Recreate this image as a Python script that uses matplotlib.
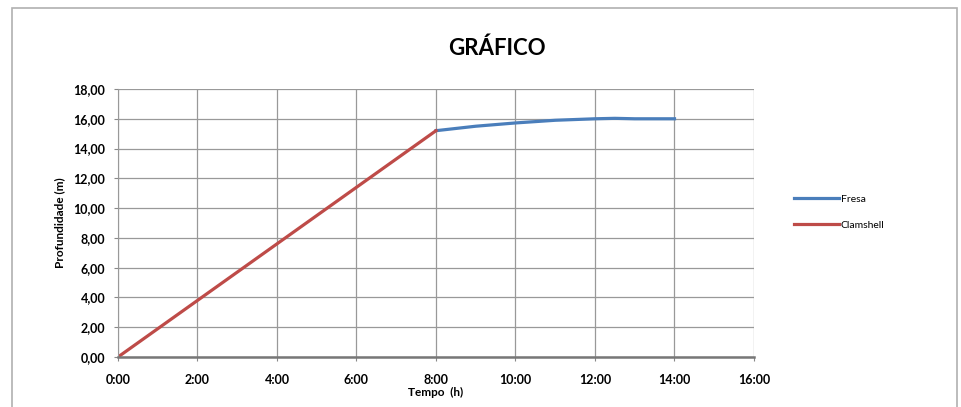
import matplotlib.pyplot as plt
from matplotlib.patches import Rectangle

# time in hours, depth in metres
clamshell_t = [0, 8]
clamshell_d = [0.0, 15.2]
fresa_t = [8, 9, 10, 11, 12, 12.5, 13, 14]
fresa_d = [15.2, 15.5, 15.72, 15.9, 16.0, 16.03, 16.0, 16.0]

x_ticks = [0, 2, 4, 6, 8, 10, 12, 14, 16]
x_labels = ['0:00', '2:00', '4:00', '6:00', '8:00', '10:00', '12:00', '14:00', '16:00']
y_ticks = [0, 2, 4, 6, 8, 10, 12, 14, 16, 18]
y_labels = ['0,00', '2,00', '4,00', '6,00', '8,00', '10,00', '12,00', '14,00', '16,00', '18,00']

plt.rcParams['font.family'] = ['Lato', 'DejaVu Sans']

fig = plt.figure(figsize=(9.62, 4.07), dpi=100)
fig.patches.append(Rectangle((12 / 962, -0.05), 945 / 962, 1.05 - 8 / 407,
                             transform=fig.transFigure, fill=False,
                             edgecolor='#b0b0b0', linewidth=1.2))

ax = fig.add_axes([118 / 962, 1 - 357 / 407, 636 / 962, 268 / 407])

ax.plot(fresa_t, fresa_d, color='#4a7ebb', linewidth=2.3, label='Fresa')
ax.plot(clamshell_t, clamshell_d, color='#be4b48', linewidth=2.3, label='Clamshell')

ax.set_xlim(0, 16)
ax.set_ylim(0, 18)
ax.set_xticks(x_ticks)
ax.set_xticklabels(x_labels)
ax.set_yticks(y_ticks)
ax.set_yticklabels(y_labels)
ax.tick_params(labelsize=9, length=3, color='#888888')
ax.tick_params(axis='x', pad=9)
ax.tick_params(axis='y', pad=6)
for lbl in ax.get_xticklabels() + ax.get_yticklabels():
    lbl.set_fontweight('bold')
ax.grid(True, color='#999999', linewidth=0.9)
ax.set_axisbelow(True)
for side in ['top', 'right']:
    ax.spines[side].set_visible(False)
ax.spines['left'].set_color('#999999')
ax.spines['bottom'].set_color('#777777')
ax.spines['bottom'].set_linewidth(1.8)

ax.set_xlabel('Tempo  (h)', fontsize=8.5, fontweight='bold', labelpad=1)
ax.set_ylabel('Profundidade (m)', fontsize=8.5, fontweight='bold', labelpad=6)

fig.text(497 / 962, 1 - 48 / 407, 'GRÁFICO', fontsize=16, fontweight='bold',
         ha='center', va='center')

fig.legend(loc='upper left', bbox_to_anchor=(785 / 962, 1 - 185 / 407),
           frameon=False, fontsize=7.5, handlelength=4.3, labelspacing=1.6,
           handletextpad=0.15)

fig.savefig('out.png', dpi=100)
